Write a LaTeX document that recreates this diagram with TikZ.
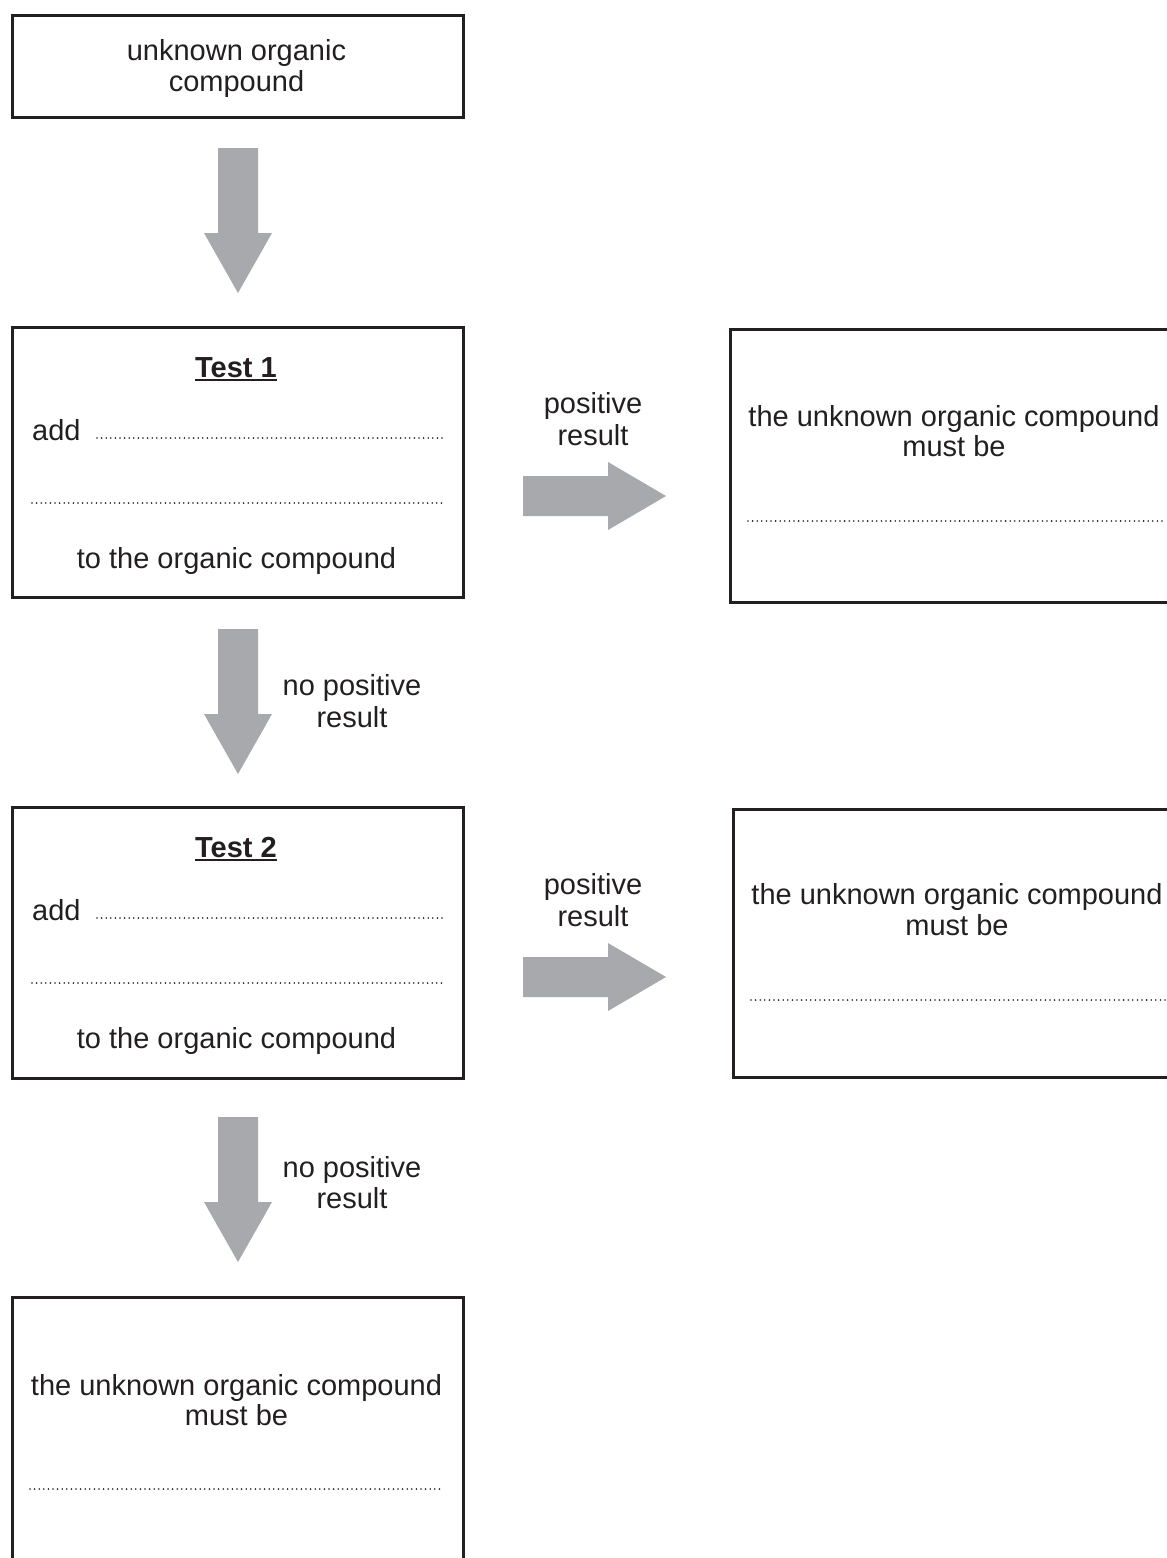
\documentclass[tikz,border=0pt]{standalone}
\usepackage{fontspec}
\setmainfont{Liberation Sans}
\definecolor{ink}{HTML}{231F20}
\definecolor{arrowgray}{HTML}{A7A9AC}
\begin{document}
\begin{tikzpicture}[x=1pt,y=-1pt,
  box/.style={draw=ink, line width=2.5pt, rectangle, inner sep=0pt},
  txt/.style={inner sep=0pt, anchor=base, text=ink, font=\fontsize{29}{31}\selectfont},
  txtw/.style={txt, anchor=base west},
  btxt/.style={txt, font=\fontsize{29}{31}\selectfont\bfseries},
  dotline/.style={draw=ink, line width=1.8pt, dash pattern=on 0pt off 4.6pt, line cap=round},
  downarr/.pic={\fill[arrowgray] (-20,0) -- (20,0) -- (20,85) -- (34,85) -- (0,145) -- (-34,85) -- (-20,85) -- cycle;},
  rightarr/.pic={\fill[arrowgray] (0,-20) -- (85,-20) -- (85,-34) -- (143,0) -- (85,34) -- (85,20) -- (0,20) -- cycle;}
]
\useasboundingbox (0,0) rectangle (1167,1558);
\clip (0,0) rectangle (1167,1558);
\fill[white] (0,0) rectangle (1167,1558);

% boxes
\node[box, anchor=north west, minimum width=451pt, minimum height=102pt] (start) at (11,14) {};
\node[box, anchor=north west, minimum width=451pt, minimum height=270pt] (test1) at (11,326) {};
\node[box, anchor=north west, minimum width=451pt, minimum height=271pt] (test2) at (11,806) {};
\node[box, anchor=north west, minimum width=451pt, minimum height=320pt] (res3) at (11,1296) {};
\node[box, anchor=north west, minimum width=453pt, minimum height=273pt] (res1) at (729,328) {};
\node[box, anchor=north west, minimum width=450pt, minimum height=268pt] (res2) at (732,808) {};

% start box text
\node[txt] (s1) at (236.5,60) {unknown organic};
\node[txt] (s2) at (236.5,91) {compound};

% test 1
\node[btxt] (t1) at (236,377) {Test 1};
\draw[ink, line width=2pt] ([yshift=-3pt]t1.base west) -- ([yshift=-3pt]t1.base east);
\node[txtw] (add1) at (32,440) {add};
\coordinate (d1a) at (97,438); \coordinate (d1b) at (445,438);
\draw[dotline] (d1a) -- (d1b);
\coordinate (d2a) at (32,503); \coordinate (d2b) at (445,503);
\draw[dotline] (d2a) -- (d2b);
\node[txt] (to1) at (236.5,568) {to the organic compound};

% test 2
\node[btxt] (t2) at (236,857) {Test 2};
\draw[ink, line width=2pt] ([yshift=-3pt]t2.base west) -- ([yshift=-3pt]t2.base east);
\node[txtw] (add2) at (32,920) {add};
\coordinate (d3a) at (97,918); \coordinate (d3b) at (445,918);
\draw[dotline] (d3a) -- (d3b);
\coordinate (d4a) at (32,983); \coordinate (d4b) at (445,983);
\draw[dotline] (d4a) -- (d4b);
\node[txt] (to2) at (236.5,1048) {to the organic compound};

% result box 1
\node[txt] (r1a) at (954,426) {the unknown organic compound};
\node[txt] (r1b) at (954,456) {must be};
\coordinate (d5a) at (748,521); \coordinate (d5b) at (1162,521);
\draw[dotline] (d5a) -- (d5b);

% result box 2
\node[txt] (r2a) at (957,904) {the unknown organic compound};
\node[txt] (r2b) at (957,935) {must be};
\coordinate (d6a) at (751,1000); \coordinate (d6b) at (1165,1000);
\draw[dotline] (d6a) -- (d6b);

% result box 3
\node[txt] (r3a) at (236.5,1395) {the unknown organic compound};
\node[txt] (r3b) at (236.5,1425) {must be};
\coordinate (d7a) at (30,1489); \coordinate (d7b) at (443,1489);
\draw[dotline] (d7a) -- (d7b);

% block arrows
\coordinate (a1) at (238,148);
\coordinate (a2) at (238,629);
\coordinate (a3) at (238,1117);
\coordinate (b1) at (523,496);
\coordinate (b2) at (523,977);
\pic at (a1) {downarr};
\pic at (a2) {downarr};
\pic at (a3) {downarr};
\pic at (b1) {rightarr};
\pic at (b2) {rightarr};

% arrow labels
\node[txt] (p1a) at (593,413) {positive};
\node[txt] (p1b) at (593,445) {result};
\node[txt] (p2a) at (593,894) {positive};
\node[txt] (p2b) at (593,926) {result};
\node[txt] (n1a) at (352,695) {no positive};
\node[txt] (n1b) at (352,727) {result};
\node[txt] (n2a) at (352,1177) {no positive};
\node[txt] (n2b) at (352,1208) {result};
\end{tikzpicture}
\end{document}
